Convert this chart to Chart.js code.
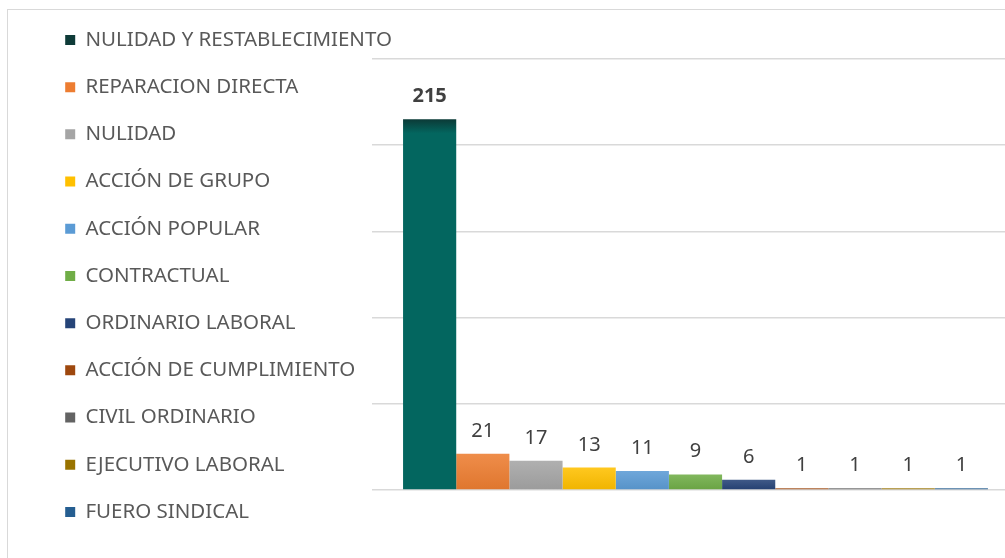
<!DOCTYPE html>
<html>
<head>
<meta charset="utf-8">
<script src="https://cdn.jsdelivr.net/npm/chart.js@4/dist/chart.umd.min.js"></script>
<style>
  html, body { margin: 0; padding: 0; background: #ffffff; overflow: hidden; }
  #wrap { position: relative; width: 1005px; height: 558px; overflow: hidden; background: #fff; }
  #frame { position: absolute; left: 7px; top: 9px; width: 1100px; height: 700px;
           border-left: 1px solid #d9d9d9; border-top: 1px solid #d9d9d9; }
  #c { position: absolute; left: 0; top: 0; }
</style>
</head>
<body>
<div id="wrap">
  <div id="frame"></div>
  <canvas id="c" width="1030" height="558"></canvas>
</div>
<script>
// ---- data ----
const categories = ['Procesos'];
const seriesNames = [
  'NULIDAD Y RESTABLECIMIENTO', 'REPARACION DIRECTA', 'NULIDAD', 'ACCIÓN DE GRUPO',
  'ACCIÓN POPULAR', 'CONTRACTUAL', 'ORDINARIO LABORAL', 'ACCIÓN DE CUMPLIMIENTO',
  'CIVIL ORDINARIO', 'EJECUTIVO LABORAL', 'FUERO SINDICAL'
];
const seriesValues = [215, 21, 17, 13, 11, 9, 6, 1, 1, 1, 1];
const barColors = ['#03665f', '#ed7d31', '#a5a5a5', '#ffc000', '#5b9bd5', '#70ad47',
                   '#264478', '#9e480e', '#636363', '#997300', '#255e91'];
const legendColors = ['#0e3b38', '#ed7d31', '#a5a5a5', '#ffc000', '#5b9bd5', '#70ad47',
                      '#264478', '#9e480e', '#636363', '#997300', '#255e91'];
const yTicks = [0, 50, 100, 150, 200, 250];

function mix(hex, target, t) {
  const n = parseInt(hex.slice(1), 16);
  const r = (n >> 16) & 255, g = (n >> 8) & 255, b = n & 255;
  const m = v => Math.round(v + (target - v) * t);
  return 'rgb(' + m(r) + ',' + m(g) + ',' + m(b) + ')';
}

function barFill(i) {
  return function (ctx) {
    const chart = ctx.chart;
    const ys = chart.scales && chart.scales.y;
    if (!chart.chartArea || !ys) return barColors[i];
    const v = ctx.raw;
    if (typeof v !== 'number') return barColors[i];
    const top = ys.getPixelForValue(v);
    const bottom = ys.getPixelForValue(0);
    const g = chart.ctx.createLinearGradient(0, top, 0, bottom);
    const h = Math.max(bottom - top, 1);
    if (i === 0) {
      const f = Math.min(14 / h, 1);
      g.addColorStop(0, '#0b3a37');
      g.addColorStop(f, barColors[0]);
      g.addColorStop(1, barColors[0]);
    } else {
      g.addColorStop(0, mix(barColors[i], 255, 0.12));
      g.addColorStop(1, mix(barColors[i], 0, 0.06));
    }
    return g;
  };
}

const datasets = seriesNames.map((name, i) => ({
  label: name,
  data: [seriesValues[i]],
  backgroundColor: barFill(i),
  borderWidth: 0,
  barPercentage: 1.0,
  categoryPercentage: 0.904
}));

const FONT = '"Noto Sans", "Open Sans", sans-serif';

const valueLabels = {
  id: 'valueLabels',
  afterDatasetsDraw(chart) {
    const ctx = chart.ctx;
    ctx.save();
    ctx.textAlign = 'center';
    ctx.textBaseline = 'alphabetic';
    chart.data.datasets.forEach((ds, i) => {
      const meta = chart.getDatasetMeta(i);
      if (meta.hidden) return;
      meta.data.forEach((bar, j) => {
        const v = ds.data[j];
        ctx.fillStyle = '#404040';
        ctx.font = (i === 0 ? 'bold ' : '') + '20px ' + FONT;
        ctx.fillText(String(v), bar.x, bar.y - 17);
      });
    });
    ctx.restore();
  }
};

// let the legend text run past its layout box (it overlaps the empty top of the plot)
const legendNoClip = {
  id: 'legendNoClip',
  afterLayout(chart) {
    if (chart.legend) {
      chart.legend.right = chart.width;
    }
  }
};

new Chart(document.getElementById('c'), {
  type: 'bar',
  data: { labels: categories, datasets: datasets },
  plugins: [valueLabels, legendNoClip],
  options: {
    responsive: false,
    animation: false,
    devicePixelRatio: 1,
    layout: { padding: { left: 38.5, top: 3, right: 11, bottom: 0 } },
    plugins: {
      tooltip: { enabled: false },
      title: { display: false },
      legend: {
        display: true,
        position: 'left',
        align: 'start',
        maxWidth: 300,
        labels: {
          boxWidth: 10,
          boxHeight: 10,
          padding: 26.7,
          color: '#595959',
          font: { family: FONT, size: 20.5 },
          generateLabels(chart) {
            return chart.data.datasets.map((ds, i) => ({
              text: ds.label,
              fillStyle: legendColors[i],
              strokeStyle: legendColors[i],
              lineWidth: 0,
              fontColor: '#595959',
              hidden: false,
              datasetIndex: i
            }));
          }
        }
      }
    },
    scales: {
      x: {
        display: true,
        grid: { display: false },
        border: { display: false },
        ticks: { display: false },
        afterFit(s) { s.height = 68; }
      },
      xTop: {
        type: 'category',
        position: 'top',
        display: true,
        labels: categories,
        grid: { display: false },
        border: { display: false },
        ticks: { display: false },
        afterFit(s) { s.height = 56; }
      },
      y: {
        min: yTicks[0],
        max: yTicks[yTicks.length - 1],
        afterBuildTicks(s) { s.ticks = yTicks.map(v => ({ value: v })); },
        grid: { color: '#d9d9d9', lineWidth: 1.5, drawTicks: false },
        border: { display: false },
        ticks: { display: false },
        afterFit(s) { s.width = 33.5; }
      }
    }
  }
});
</script>
</body>
</html>
